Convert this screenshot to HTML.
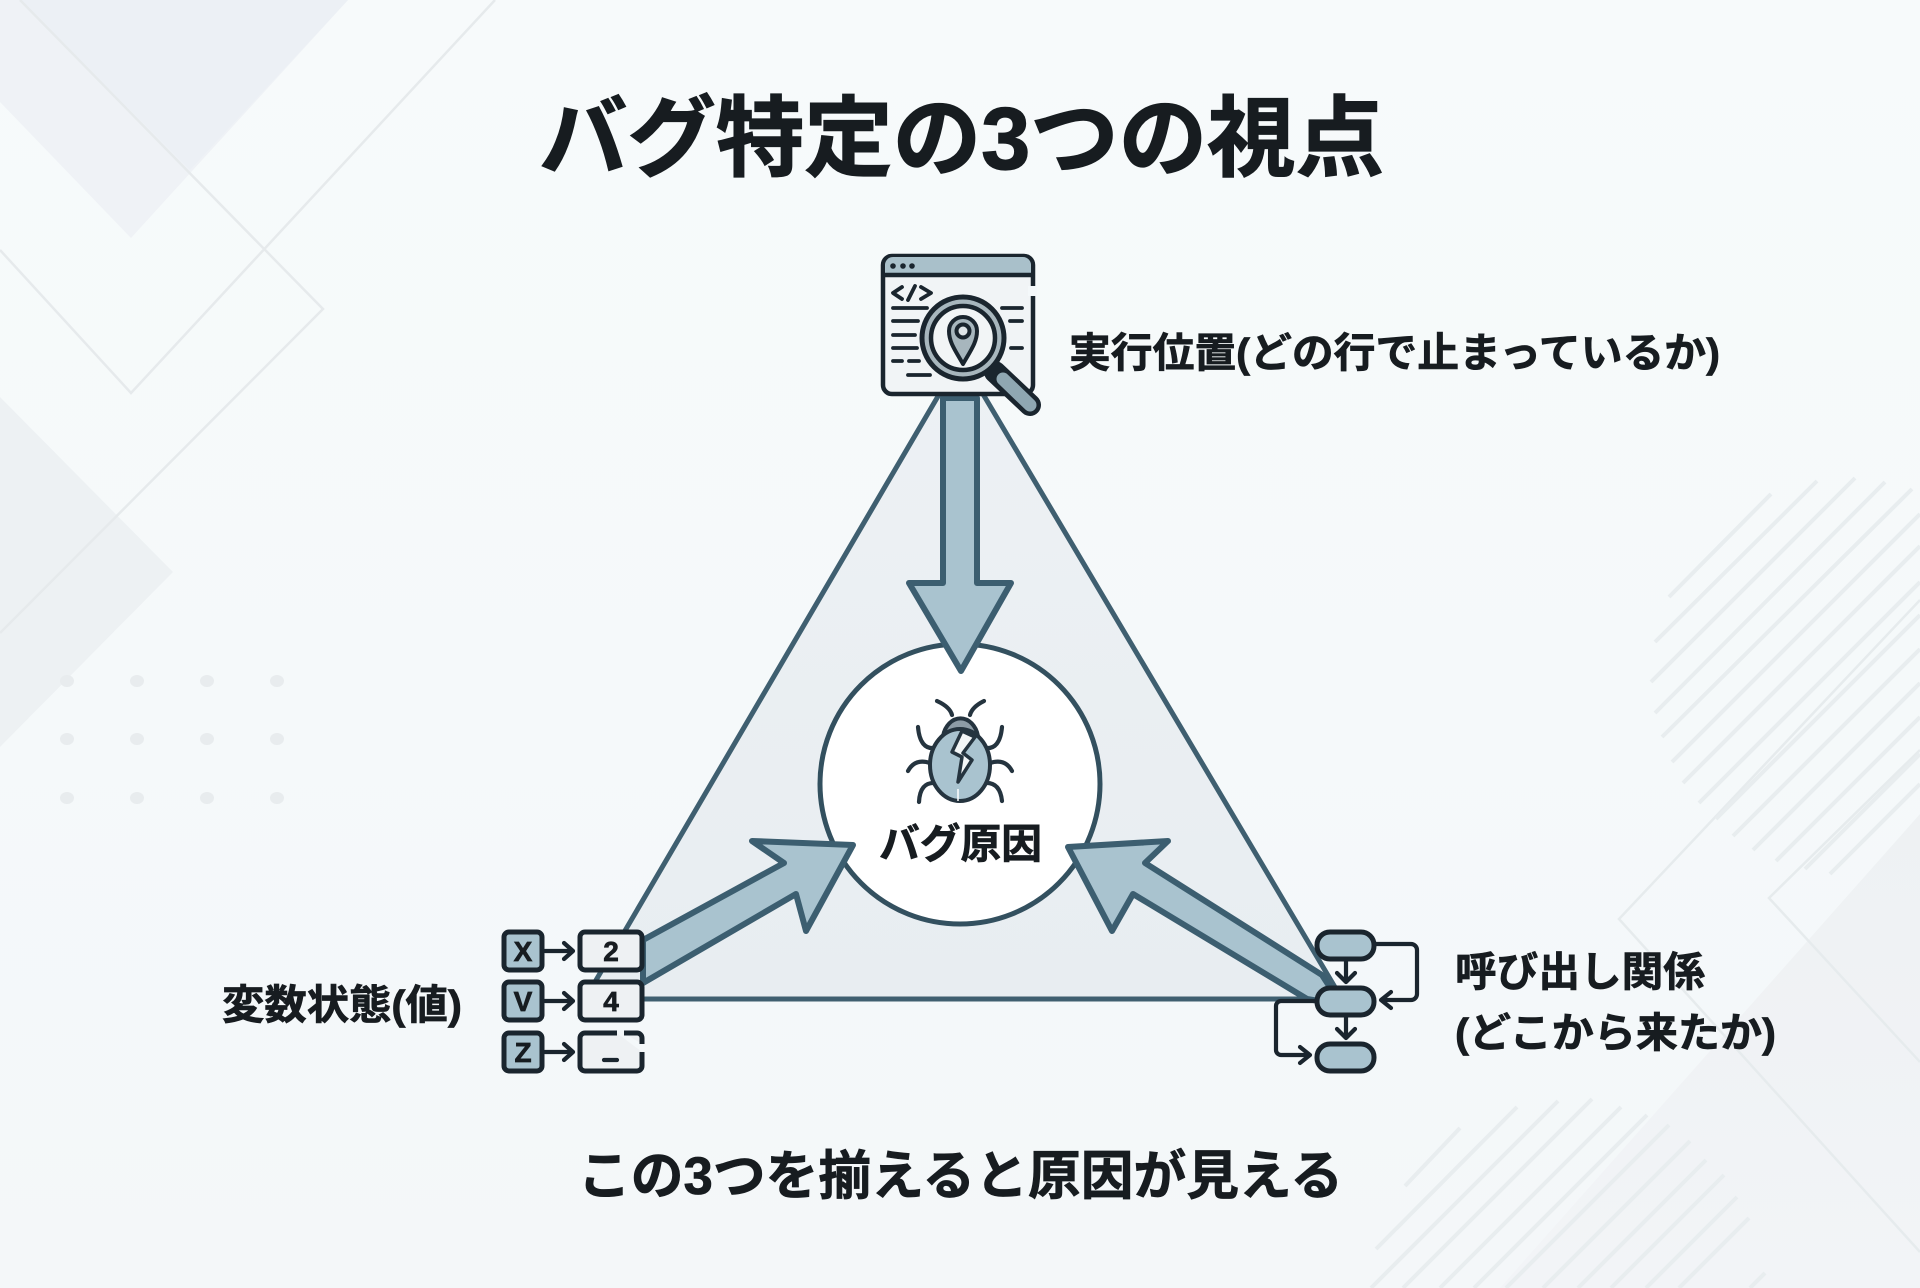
<!DOCTYPE html>
<html lang="ja"><head><meta charset="utf-8"><title>バグ特定の3つの視点</title>
<style>
html,body{margin:0;padding:0;background:#f6f9fa}
svg{display:block}
text{font-family:"Liberation Sans","Noto Sans CJK JP",sans-serif;font-weight:700;fill:#171c20;stroke:#171c20;stroke-width:.7}
</style></head><body>
<svg xmlns="http://www.w3.org/2000/svg" width="1920" height="1288" viewBox="0 0 1920 1288">
<defs>
<linearGradient id="bg" x1="0" y1="0" x2="0" y2="1"><stop offset="0" stop-color="#f7fafb"/><stop offset=".55" stop-color="#f5f9fa"/><stop offset="1" stop-color="#f4f7f9"/></linearGradient>
<linearGradient id="rf" x1="0" y1="0" x2="0" y2="1"><stop offset="0" stop-color="#eef1f3"/><stop offset="1" stop-color="#f2f4f7"/></linearGradient>
<linearGradient id="tf" x1="0" y1="0" x2="0" y2="1"><stop offset="0" stop-color="#edf1f4"/><stop offset="1" stop-color="#e8edf1"/></linearGradient>
</defs>
<rect width="1920" height="1288" fill="url(#bg)"/>
<!-- left background -->
<polygon points="0,0 348,0 131,238 0,102" fill="#eff2f6"/>
<polygon points="20,0 348,0 190,170" fill="#ecf0f5"/>
<polygon points="0,397 173,572 0,747" fill="#edf1f3"/>
<g fill="none" stroke="#e6eaec" stroke-width="2.5">
<polyline points="20,0 323,309 0,633"/>
<polyline points="0,250 131,393 495,0"/>
</g>
<g fill="#e8ecee">
<ellipse cx="67" cy="681" rx="7" ry="6"/><ellipse cx="137" cy="681" rx="7" ry="6"/><ellipse cx="207" cy="681" rx="7" ry="6"/><ellipse cx="277" cy="681" rx="7" ry="6"/>
<ellipse cx="67" cy="739" rx="7" ry="6"/><ellipse cx="137" cy="739" rx="7" ry="6"/><ellipse cx="207" cy="739" rx="7" ry="6"/><ellipse cx="277" cy="739" rx="7" ry="6"/>
<ellipse cx="67" cy="798" rx="7" ry="6"/><ellipse cx="137" cy="798" rx="7" ry="6"/><ellipse cx="207" cy="798" rx="7" ry="6"/><ellipse cx="277" cy="798" rx="7" ry="6"/>
</g>
<!-- right background -->
<polygon points="1920,814 1500,1288 1920,1288" fill="url(#rf)"/>
<g fill="none" stroke="#e6ebed" stroke-width="2.5">
<polyline points="1920,600 1619,919 1920,1252"/>
<polyline points="1920,750 1769,898 1920,1062"/>
</g>
<g stroke="#e8edef" stroke-width="4" fill="none">
<line x1="1669" y1="597" x2="1771" y2="494"/>
<line x1="1655" y1="642" x2="1817" y2="481"/>
<line x1="1651" y1="682" x2="1855" y2="478"/>
<line x1="1655" y1="713" x2="1885" y2="482"/>
<line x1="1662" y1="737" x2="1912" y2="489"/>
<line x1="1672" y1="762" x2="1920" y2="514"/>
<line x1="1683" y1="783" x2="1920" y2="546"/>
<line x1="1699" y1="803" x2="1920" y2="582"/>
<line x1="1716" y1="819" x2="1920" y2="615"/>
<line x1="1733" y1="836" x2="1920" y2="649"/>
<line x1="1753" y1="850" x2="1920" y2="683"/>
<line x1="1776" y1="861" x2="1920" y2="717"/>
<line x1="1805" y1="869" x2="1920" y2="754"/>
<line x1="1830" y1="874" x2="1920" y2="784"/>
<line x1="1405" y1="1186" x2="1460" y2="1128"/>
<line x1="1376" y1="1249" x2="1517" y2="1107"/>
<line x1="1371" y1="1288" x2="1558" y2="1101"/>
<line x1="1403" y1="1288" x2="1592" y2="1099"/>
<line x1="1440" y1="1288" x2="1621" y2="1107"/>
<line x1="1474" y1="1288" x2="1647" y2="1115"/>
<line x1="1506" y1="1288" x2="1669" y2="1125"/>
<line x1="1543" y1="1288" x2="1690" y2="1141"/>
<line x1="1578" y1="1288" x2="1706" y2="1160"/>
<line x1="1611" y1="1288" x2="1724" y2="1175"/>
<line x1="1646" y1="1288" x2="1737" y2="1197"/>
<line x1="1679" y1="1288" x2="1749" y2="1218"/>
<line x1="1750" y1="1288" x2="1765" y2="1273"/>
</g>

<!-- title -->
<text x="539" y="169" font-size="88" textLength="845" lengthAdjust="spacingAndGlyphs" style="stroke-width:1.2">バグ特定の3つの視点</text>

<!-- triangle -->
<polygon points="961,357 585,999 1342,999" fill="url(#tf)" stroke="#3f5f70" stroke-width="5" stroke-linejoin="round"/>

<!-- circle -->
<circle cx="960" cy="784" r="140" fill="#ffffff" stroke="#33505f" stroke-width="5"/>

<!-- top arrow -->
<polygon points="943,398 977,398 977,583 1011,583 961,671 909,583 943,583" fill="#a9c3cf" stroke="#3c5e70" stroke-width="6" stroke-linejoin="round"/>

<!-- left arrow -->
<polygon points="643,940 784,863 752,841 853,845 806,931 796,894 643,983" fill="#a9c3cf" stroke="#3c5e70" stroke-width="6" stroke-linejoin="round"/>
<!-- right arrow -->
<polygon points="1322,975 1145,863 1168,841 1068,847 1112,931 1133,894 1307,999 1325,1002 1335,995" fill="#a9c3cf" stroke="#3c5e70" stroke-width="6" stroke-linejoin="round"/>

<!-- browser icon -->
<rect x="883" y="256" width="150" height="138" rx="9" fill="#f1f4f6" stroke="#1a252e" stroke-width="4.5"/>
<path d="M885,275 V265 a8,8 0 0 1 8,-8 H1023 a8,8 0 0 1 8,8 V275 Z" fill="#a9c0ca"/>
<line x1="883" y1="275" x2="1033" y2="275" stroke="#1a252e" stroke-width="4.5"/>
<g fill="#1a252e"><circle cx="893" cy="266" r="2.8"/><circle cx="903" cy="266" r="2.8"/><circle cx="912" cy="266" r="2.8"/></g>
<rect x="1028" y="286" width="9" height="10" fill="#f4f8fa"/>
<g fill="none" stroke="#1a252e" stroke-width="3.8" stroke-linecap="round" stroke-linejoin="round">
<polyline points="902,287 893,293 902,299"/>
<line x1="908" y1="300" x2="915" y2="286"/>
<polyline points="921,287 931,293 921,299"/>
<line x1="893" y1="308" x2="927" y2="308"/><line x1="893" y1="321" x2="918" y2="321"/><line x1="893" y1="335" x2="915" y2="335"/><line x1="893" y1="348" x2="917" y2="348"/>
<line x1="893" y1="361" x2="902" y2="361"/><line x1="909" y1="361" x2="919" y2="361"/><line x1="908" y1="375" x2="930" y2="375"/>
<line x1="1002" y1="308" x2="1022" y2="308"/><line x1="1010" y1="321" x2="1022" y2="321"/><line x1="1011" y1="348" x2="1022" y2="348"/>
</g>
<line x1="995" y1="372" x2="1030" y2="405" stroke="#1a252e" stroke-width="22" stroke-linecap="round"/>
<line x1="1003" y1="379" x2="1030" y2="405" stroke="#8fa7b2" stroke-width="13" stroke-linecap="round"/>
<circle cx="963" cy="338" r="41" fill="#a7b6bd" stroke="#1a252e" stroke-width="5"/>
<circle cx="963" cy="338" r="32" fill="#f2f5f6" stroke="#1a252e" stroke-width="4.5"/>
<path d="M963,364 C955,350 949,342 949,331 a14,14 0 0 1 28,0 C977,342 971,350 963,364 Z" fill="#a7b6bd" stroke="#1a252e" stroke-width="4" stroke-linejoin="round"/>
<circle cx="963" cy="331" r="6.5" fill="#dfe5e8" stroke="#1a252e" stroke-width="4"/>

<!-- variables icon -->
<g stroke="#1a252e" stroke-width="5" stroke-linejoin="round">
<rect x="504" y="932" width="38" height="38" rx="5" fill="#a9c3cf"/>
<rect x="504" y="982" width="38" height="38" rx="5" fill="#a9c3cf"/>
<rect x="504" y="1033" width="38" height="38" rx="5" fill="#a9c3cf"/>
<rect x="580" y="932" width="62" height="38" rx="5" fill="#eef1f3"/>
<rect x="580" y="982" width="62" height="38" rx="5" fill="#eef1f3"/>
<path d="M617,1033 H585 a5,5 0 0 0 -5,5 V1066 a5,5 0 0 0 5,5 H637 a5,5 0 0 0 5,-5 V1052 M642,1044 V1038 a5,5 0 0 0 -5,-5 H624" fill="#eef1f3"/>
</g>
<g fill="none" stroke="#1a252e" stroke-width="4.2" stroke-linecap="round" stroke-linejoin="round">
<line x1="545" y1="951" x2="572" y2="951"/><polyline points="564,943 573,951 564,959"/>
<line x1="545" y1="1001" x2="572" y2="1001"/><polyline points="564,993 573,1001 564,1009"/>
<line x1="545" y1="1052" x2="572" y2="1052"/><polyline points="564,1044 573,1052 564,1060"/>
<line x1="604" y1="1060" x2="617" y2="1060"/>
</g>
<g font-size="28" text-anchor="middle">
<text x="523" y="961">X</text><text x="523" y="1011">V</text><text x="523" y="1062">Z</text>
<text x="611" y="961">2</text><text x="611" y="1011">4</text>
</g>

<!-- call graph icon -->
<g fill="#a9c3cf" stroke="#1a252e" stroke-width="5">
<rect x="1317" y="932" width="57" height="27" rx="13"/>
<rect x="1317" y="988" width="57" height="27" rx="13"/>
<rect x="1317" y="1044" width="57" height="27" rx="13"/>
</g>
<g fill="none" stroke="#1a252e" stroke-width="4.2" stroke-linecap="round" stroke-linejoin="round">
<line x1="1346" y1="960" x2="1346" y2="981"/><polyline points="1337,973 1346,982 1355,973"/>
<line x1="1346" y1="1016" x2="1346" y2="1037"/><polyline points="1337,1029 1346,1038 1355,1029"/>
<path d="M1375,944 H1411 a6,6 0 0 1 6,6 V994 a6,6 0 0 1 -6,6 H1382"/><polyline points="1391,992 1381,1000 1391,1008"/>
<path d="M1316,1001 H1281 a5,5 0 0 0 -5,5 V1050 a5,5 0 0 0 5,5 H1309"/><polyline points="1300,1047 1310,1055 1300,1063"/>
</g>

<!-- bug -->
<g fill="none" stroke="#25343f" stroke-width="4.2" stroke-linecap="round" stroke-linejoin="round">
<path d="M952,715 Q950,707 937,701"/><path d="M970,715 Q972,707 984,701"/>
<path d="M935,748 Q920,750 918,727"/><path d="M985,748 Q1000,750 1002,727"/>
<path d="M930,763 Q915,758 908,771"/><path d="M990,763 Q1005,758 1012,771"/>
<path d="M935,783 Q920,782 919,802"/><path d="M985,783 Q1000,782 1002,801"/>
</g>
<path d="M943,736 a18,23 0 0 1 35,0 Z" fill="#8d9ca6" stroke="#25343f" stroke-width="4"/>
<ellipse cx="960" cy="765" rx="30" ry="36" fill="#a9c3cf" stroke="#25343f" stroke-width="4"/>
<polygon points="962,731 952,752 962,757 958,782 972,760 963,753 975,737" fill="#f3f6f7" stroke="#25343f" stroke-width="3.5" stroke-linejoin="round"/>
<line x1="958" y1="789" x2="958" y2="801" stroke="#fff" stroke-width="1.5"/>

<!-- labels -->
<text x="879" y="858" font-size="41" textLength="163" lengthAdjust="spacingAndGlyphs">バグ原因</text>
<text x="1069" y="367" font-size="41" textLength="651" lengthAdjust="spacingAndGlyphs">実行位置(どの行で止まっているか)</text>
<text x="222" y="1019" font-size="41" textLength="240" lengthAdjust="spacingAndGlyphs">変数状態(値)</text>
<text x="1455" y="986" font-size="41" textLength="250" lengthAdjust="spacingAndGlyphs">呼び出し関係</text>
<text x="1455" y="1047" font-size="41" textLength="321" lengthAdjust="spacingAndGlyphs">(どこから来たか)</text>
<text x="578" y="1194" font-size="53" textLength="765" lengthAdjust="spacingAndGlyphs">この3つを揃えると原因が見える</text>
</svg>
</body></html>
